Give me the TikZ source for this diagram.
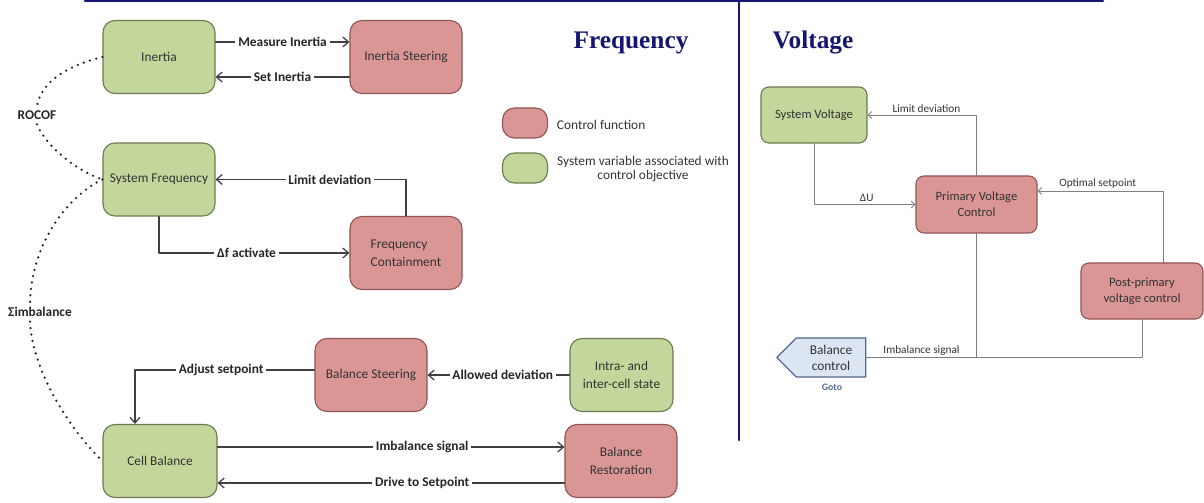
\documentclass[tikz,border=0pt]{standalone}
\usepackage{fontspec}
\setmainfont{Carlito}
\newfontfamily\titlefont{Liberation Serif}
\usetikzlibrary{arrows.meta,shapes.symbols}

\definecolor{ctrlred}{RGB}{217,150,148}
\definecolor{ctrlredline}{RGB}{145,85,85}
\definecolor{vargreen}{RGB}{195,214,155}
\definecolor{vargreenline}{RGB}{108,122,82}
\definecolor{navy}{RGB}{22,22,112}
\definecolor{gotoblue}{RGB}{220,230,242}
\definecolor{gotoline}{RGB}{80,105,145}

\tikzset{
  ctrlbox/.style={draw=ctrlredline, fill=ctrlred, rounded corners=0.3cm, line width=0.8pt,
    minimum width=2.8cm, minimum height=1.825cm, inner sep=2pt, align=center,
    font=\fontsize{9.5}{12.5}\selectfont, text=black!80},
  varbox/.style={ctrlbox, draw=vargreenline, fill=vargreen},
  lbl/.style={fill=white, inner sep=2pt, text=black!85, font=\bfseries\fontsize{9.5}{11}\selectfont},
  arr/.style={draw=black!75, line width=0.9pt, -{Straight Barb[length=4pt,width=7pt]}},
  vline/.style={draw=black!50, line width=0.6pt},
  varr/.style={vline, -{Straight Barb[length=2.5pt,width=5pt]}},
  vlbl/.style={above, inner sep=1.5pt, text=black!80, font=\fontsize{8}{10}\selectfont},
  dots/.style={draw=black!85, line width=1.8pt, line cap=round, dash pattern=on 0pt off 4.6pt},
  titletxt/.style={text=navy, font=\titlefont\bfseries\fontsize{18}{20}\selectfont},
}

\begin{document}
\begin{tikzpicture}[line cap=round, line join=round, x=0.025cm, y=-0.025cm]
\useasboundingbox (0,0) rectangle (1204,503);

% frame lines
\draw[navy, line width=1.8pt] (85,1) -- (1103,1);
\draw[navy, line width=1.5pt] (739,0) -- (739,440);

% titles and legend
\node[titletxt] (freqTitle) at (631,43) {Frequency};
\node[titletxt] (voltTitle) at (813,43) {Voltage};
\node[ctrlbox, minimum width=1.125cm, minimum height=0.75cm] (legCtrl) at (525,123) {};
\node[anchor=west, text=black!80, font=\fontsize{9.5}{11}\selectfont] (legCtrlTxt) at (552,125) {Control function};
\node[varbox, minimum width=1.125cm, minimum height=0.75cm] (legVar) at (525,168) {};
\node[align=center, text=black!80, font=\fontsize{9.5}{10.6}\selectfont] (legVarTxt) at (643,169) {System variable associated with\\control objective};

% frequency side
\node[varbox] (inertia) at (159,57) {Inertia};
\node[ctrlbox] (inertiaSteer) at (406,57) {Inertia Steering};
\node[varbox] (sysFreq) at (159,179.5) {System Frequency};
\node[ctrlbox, align=left] (freqCont) at (406,253) {Frequency\\Containment};
\node[ctrlbox] (balSteer) at (371,375) {Balance Steering};
\node[varbox, minimum width=2.575cm] (intraCell) at (621.5,375) {Intra- and\\inter-cell state};
\node[varbox, minimum width=2.85cm] (cellBal) at (160,461) {Cell Balance};
\node[ctrlbox] (balRest) at (621,461) {Balance\\Restoration};

\draw[arr] ([yshift=0.375cm]inertia.east) -- node[lbl]{Measure Inertia} ([yshift=0.375cm]inertiaSteer.west);
\draw[arr] ([yshift=-0.5cm]inertiaSteer.west) -- node[lbl]{Set Inertia} ([yshift=-0.5cm]inertia.east);
\draw[arr] (freqCont.north) |- node[lbl, pos=0.7]{Limit deviation} (sysFreq.east);
\draw[arr] (sysFreq.south) |- node[lbl, pos=0.73]{Δf activate} (freqCont.west);
\draw[arr] (intraCell.west) -- node[lbl, pos=0.47]{Allowed deviation} (balSteer.east);
\draw[arr] ([yshift=0.125cm]balSteer.west) -| node[lbl, pos=0.26]{Adjust setpoint} ([xshift=-0.625cm]cellBal.north);
\draw[arr] ([yshift=0.35cm]cellBal.east) -- node[lbl, pos=0.59]{Imbalance signal} ([yshift=0.35cm]balRest.west);
\draw[arr] ([yshift=-0.55cm]balRest.west) -- node[lbl, pos=0.41]{Drive to Setpoint} ([yshift=-0.55cm]cellBal.east);

% dotted couplings
\node[text=black!85, font=\bfseries\fontsize{9.5}{11}\selectfont] (rocof) at (37,115) {ROCOF};
\node[text=black!85, font=\bfseries\fontsize{9.5}{11}\selectfont] (imbal) at (40,312) {Σimbalance};
\draw[dots] (inertia.west) .. controls (70,65) and (42,80) .. (rocof.north);
\draw[dots] (rocof.south) .. controls (45,145) and (75,170) .. (sysFreq.west);
\draw[dots] (sysFreq.west) .. controls (70,195) and (32,240) .. ([xshift=-0.25cm]imbal.north);
\draw[dots] ([xshift=-0.25cm]imbal.south) .. controls (32,370) and (70,430) .. (cellBal.west);

% voltage side
\node[varbox, rounded corners=0.2cm, minimum width=2.65cm, minimum height=1.4cm, font=\fontsize{9}{11.5}\selectfont] (sysVolt) at (814,115) {System Voltage};
\node[ctrlbox, rounded corners=0.2cm, minimum width=3.025cm, minimum height=1.425cm, font=\fontsize{9}{11.5}\selectfont] (primVolt) at (976.5,204.5) {Primary Voltage\\Control};
\node[ctrlbox, rounded corners=0.2cm, minimum width=3.05cm, minimum height=1.4cm, font=\fontsize{9}{11.5}\selectfont] (postPrim) at (1142,291) {Post-primary\\voltage control};
\node[signal, signal to=west, signal pointer angle=90, draw=gotoline, fill=gotoblue, line width=0.8pt,
  minimum width=2.225cm, minimum height=0.975cm, inner sep=1pt, align=center, text=black!80,
  font=\fontsize{9.5}{11.5}\selectfont] (balCtrl) at (831,357.5) {Balance\\control};
\node[text=gotoline, font=\bfseries\fontsize{7}{8}\selectfont] (gotoLbl) at (832,387) {Goto};

\draw[varr] (primVolt.north) |- node[vlbl, pos=0.73]{Limit deviation} (sysVolt.east);
\draw[varr] (sysVolt.south) |- node[vlbl, pos=0.76]{ΔU} (primVolt.west);
\draw[varr] ([xshift=0.525cm]postPrim.north) |- node[vlbl, pos=0.76]{Optimal setpoint} ([yshift=0.3375cm]primVolt.east);
\draw[vline] (postPrim.south) |- node[vlbl, pos=0.9]{Imbalance signal} (balCtrl.east);
\draw[vline] (primVolt.south) -- (primVolt.south |- balCtrl.east);
\end{tikzpicture}
\end{document}
